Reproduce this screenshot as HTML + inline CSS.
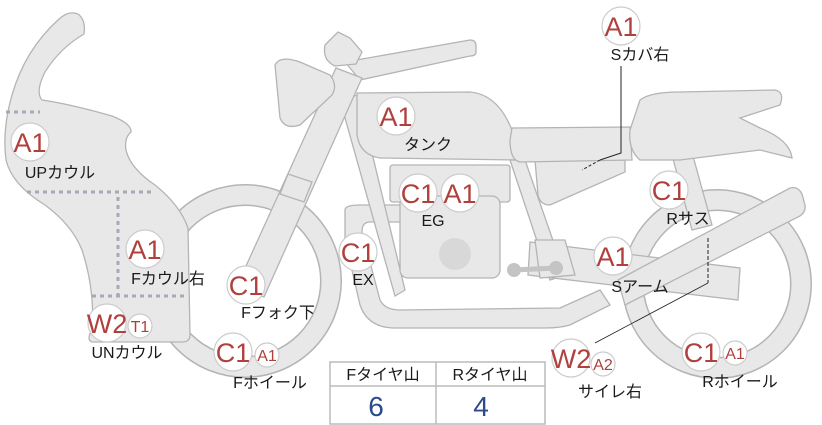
<!DOCTYPE html>
<html><head><meta charset="utf-8"><style>
body{margin:0;background:#fff;width:822px;height:425px;overflow:hidden}
svg{display:block}
.s{fill:#e8e8e8;stroke:#b4b4b4;stroke-width:1.3}
.b{fill:#fff;stroke:#ccc;stroke-width:1.2}
.r{fill:#b0403c;font-family:"Liberation Sans",sans-serif;text-anchor:middle}
.l{fill:#1a1a1a;font-family:"Liberation Sans","Noto Sans CJK JP",sans-serif;font-size:16px;text-anchor:middle}
</style></head><body>
<svg width="822" height="425" viewBox="0 0 822 425">
<circle cx="717" cy="284" r="84" fill="none" stroke="#b4b4b4" stroke-width="22"/>
<circle cx="717" cy="284" r="84" fill="none" stroke="#e8e8e8" stroke-width="19"/>
<circle cx="245" cy="281" r="86" fill="none" stroke="#b4b4b4" stroke-width="22"/>
<circle cx="245" cy="281" r="86" fill="none" stroke="#e8e8e8" stroke-width="19"/>
<path class="s" d="M345,210 Q345,205 360,205 L405,205 L405,222 L370,222 Q362,222 362,232 L380,300 Q385,310 400,310 L560,308 L600,290 L610,305 L570,325 Q560,328 545,328 L395,328 Q368,328 360,305 L345,240 Z"/>
<path class="s" d="M340,100 L358,95 L405,290 L395,296 Z"/>
<path class="s" d="M510,160 L525,160 L565,275 L550,280 Z"/>
<path class="s" d="M530,242 L740,268 L738,300 L528,275 Z"/>
<path class="s" d="M535,240 L565,240 L575,275 L540,278 Z"/>
<path class="s" d="M668,140 L688,138 L712,225 L692,230 Z"/>
<path class="s" d="M618,280 L790,188 Q798,186 802,194 L805,205 Q806,212 800,216 L625,305 Z"/>
<rect class="s" x="390" y="165" width="120" height="37" rx="3"/>
<rect class="s" x="400" y="196" width="100" height="82" rx="8"/>
<circle cx="455" cy="254" r="16" fill="#d8d8d8"/>
<path d="M514,270 L556,268" stroke="#c4c4c4" stroke-width="5"/>
<circle cx="514" cy="270" r="7" fill="#c4c4c4"/><circle cx="556" cy="268" r="7" fill="#c4c4c4"/>
<path class="s" d="M535,160 L625,160 L625,172 L550,205 Q540,205 538,195 Z"/>
<path class="s" d="M357,93 L470,92 Q505,95 518,150 L520,160 L380,158 Q360,155 357,135 Z"/>
<path class="s" d="M512,128 L630,127 L632,160 L520,162 Q510,160 510,140 Z"/>
<path class="s" d="M640,100 Q650,92 680,92 L775,90 Q785,92 780,105 L740,118 L760,128 Q790,140 792,158 L760,150 L680,160 L640,160 Q628,150 630,130 Z"/>
<path class="s" d="M345,62 L470,40 Q476,40 476,46 L476,52 Q476,56 470,56 L360,80 Z"/>
<path class="s" d="M236,288 L336,68 L362,78 L264,297 Z"/>
<path class="s" d="M288,174 L312,182 L304,202 L280,194 Z"/>
<path class="s" d="M275,65 Q280,55 300,62 L330,75 Q338,85 332,95 L300,125 Q285,130 280,118 Z"/>
<path class="s" d="M325,45 L338,32 L350,38 L362,52 L356,64 L335,66 Q322,60 325,45 Z"/>
<path class="s" d="M78,14 Q86,20 84,34 Q60,48 45,72 Q35,92 42,100 Q70,104 112,116 Q132,124 131,132 Q124,138 126,150 Q130,168 155,185 Q180,205 188,228 L190,335 Q190,342 182,342 L92,342 Q86,340 92,330 Q95,290 82,250 Q72,225 45,205 Q12,185 6,160 Q2,130 12,95 Q25,50 58,20 Q68,10 78,14 Z"/>
<g stroke="#a8a8b8" stroke-width="3" stroke-dasharray="4,4" fill="none">
<path d="M6,112 H40"/><path d="M27,192 H153"/><path d="M118,197 V295"/><path d="M92,296 H188"/>
</g>
<path d="M621,66 V153 L600,160" stroke="#222" fill="none" stroke-width="1"/>
<path d="M600,160 L582,170" stroke="#222" stroke-width="1" stroke-dasharray="3,2"/>
<path d="M708,238 V283" stroke="#222" stroke-width="1" stroke-dasharray="4,2"/>
<path d="M708,283 L595,343" stroke="#222" stroke-width="0.8"/>
<g>
<circle class="b" cx="621" cy="26" r="19"/><text class="r" x="621" y="36" font-size="27">A1</text>
<circle class="b" cx="396" cy="116" r="19"/><text class="r" x="396" y="126" font-size="27">A1</text>
<circle class="b" cx="418" cy="193" r="19"/><text class="r" x="418" y="203" font-size="27">C1</text>
<circle class="b" cx="460" cy="193" r="19"/><text class="r" x="460" y="203" font-size="27">A1</text>
<circle class="b" cx="358" cy="252" r="19"/><text class="r" x="358" y="262" font-size="27">C1</text>
<circle class="b" cx="30" cy="142" r="19"/><text class="r" x="30" y="152" font-size="27">A1</text>
<circle class="b" cx="145" cy="249" r="19"/><text class="r" x="145" y="259" font-size="27">A1</text>
<circle class="b" cx="246" cy="285" r="19"/><text class="r" x="246" y="295" font-size="27">C1</text>
<circle class="b" cx="107" cy="323" r="19"/><text class="r" x="107" y="333" font-size="27">W2</text>
<circle class="b" cx="140" cy="326" r="12"/><text class="r" x="140" y="332" font-size="16">T1</text>
<circle class="b" cx="233" cy="352" r="19"/><text class="r" x="233" y="362" font-size="27">C1</text>
<circle class="b" cx="267" cy="355" r="12"/><text class="r" x="267" y="361" font-size="16">A1</text>
<circle class="b" cx="669" cy="190" r="19"/><text class="r" x="669" y="200" font-size="27">C1</text>
<circle class="b" cx="613" cy="256" r="19"/><text class="r" x="613" y="266" font-size="27">A1</text>
<circle class="b" cx="571" cy="358" r="19"/><text class="r" x="571" y="368" font-size="27">W2</text>
<circle class="b" cx="603" cy="364" r="12"/><text class="r" x="603" y="370" font-size="16">A2</text>
<circle class="b" cx="701" cy="352" r="19"/><text class="r" x="701" y="362" font-size="27">C1</text>
<circle class="b" cx="735" cy="353" r="12"/><text class="r" x="735" y="359" font-size="16">A1</text>
</g>
<g>
<text class="l" x="640" y="60">Sカバ右</text>
<text class="l" x="428" y="150">タンク</text>
<text class="l" x="433" y="226">EG</text>
<text class="l" x="363" y="285">EX</text>
<text class="l" x="60" y="178">UPカウル</text>
<text class="l" x="168" y="284">Fカウル右</text>
<text class="l" x="278" y="318">Fフォク下</text>
<text class="l" x="127" y="358">UNカウル</text>
<text class="l" x="270" y="388">Fホイール</text>
<text class="l" x="688" y="224">Rサス</text>
<text class="l" x="640" y="292">Sアーム</text>
<text class="l" x="610" y="397">サイレ右</text>
<text class="l" x="740" y="387">Rホイール</text>
</g>
<rect x="330" y="362" width="215" height="62" fill="#fff" stroke="#bbb" stroke-width="1.5"/>
<line x1="330" y1="386" x2="545" y2="386" stroke="#bbb" stroke-width="1.5"/>
<line x1="436" y1="362" x2="436" y2="424" stroke="#bbb" stroke-width="1.5"/>
<text class="l" x="383" y="380">Fタイヤ山</text>
<text class="l" x="490" y="380">Rタイヤ山</text>
<text x="376" y="416" font-size="28" fill="#2c4a8c" font-family="Liberation Sans,sans-serif" text-anchor="middle">6</text>
<text x="481" y="416" font-size="28" fill="#2c4a8c" font-family="Liberation Sans,sans-serif" text-anchor="middle">4</text>
</svg>
</body></html>
